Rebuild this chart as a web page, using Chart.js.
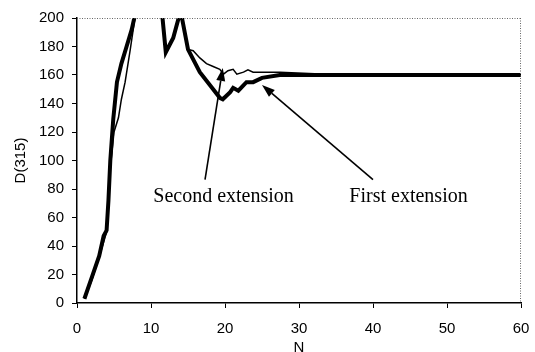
<!DOCTYPE html>
<html>
<head>
<meta charset="utf-8">
<script src="https://cdn.jsdelivr.net/npm/chart.js@4/dist/chart.umd.min.js"></script>
<style>
html,body{margin:0;padding:0;background:#fff;}
canvas{display:block;}
</style>
</head>
<body>
<canvas id="c" width="535" height="352"></canvas>
<script>
// Second extension (thick line)
const thickN = [1, 2, 3, 3.6, 4, 4.25, 4.5, 4.9, 5.4, 6, 6.7, 7.4, 8, 9, 10, 11, 12, 13, 14, 15, 16.6, 18.4, 19.3, 19.7, 20.7, 21.1, 21.8, 22.9, 23.8, 25, 27.4, 30, 40, 50, 60];
const thickD = [3, 18, 33, 47, 51, 72, 100, 129, 155, 168, 180, 192, 206, 245, 250, 230, 176, 186, 205, 178, 162, 150, 144, 143, 148, 151, 149, 155, 155, 158, 160, 160, 160, 160, 160];
// First extension (thin line)
const thinN = [1, 2, 3, 4, 4.5, 5.0, 5.6, 6, 6.5, 7.2, 7.8, 8.5, 9, 10, 11, 12, 13, 14, 15, 15.7, 16.6, 17.5, 18.4, 19.3, 19.8, 20.4, 21.1, 21.6, 22.5, 23.1, 23.8, 27.4, 33.7, 40, 50, 60];
const thinD = [3, 16, 32, 50, 95, 120, 130, 143, 155, 178, 199, 215, 245, 250, 230, 176, 186, 205, 178, 177, 172, 168, 166, 164, 160.6, 163, 164, 160.6, 162, 163.6, 162, 162, 160.6, 160, 160, 160];
// Axis ticks
const xTicks = [0, 10, 20, 30, 40, 50, 60];
const yTicks = [0, 20, 40, 60, 80, 100, 120, 140, 160, 180, 200];
// Annotation labels and arrows (data coordinates)
const labelTexts = ["Second extension", "First extension"];
const labelN = [19.8, 44.8];
const labelD = [71, 71];
const arrowFromN = [17.3, 40];
const arrowFromD = [86.6, 86.6];
const arrowToN = [19.7, 25];
const arrowToD = [165, 153];

const toXY = (ns, ds) => ns.map((n, i) => ({x: n, y: ds[i]}));

const annot = {
  id: 'annot',
  afterDatasetsDraw(chart) {
    const ctx = chart.ctx, xs = chart.scales.x, ys = chart.scales.y, a = chart.chartArea;
    ctx.save();
    // dotted frame on top and right
    ctx.strokeStyle = '#666';
    ctx.lineWidth = 1;
    ctx.setLineDash([1, 1.5]);
    ctx.beginPath();
    ctx.moveTo(a.left, a.top + 0.5); ctx.lineTo(a.right, a.top + 0.5);
    ctx.moveTo(a.right - 0.5, a.top); ctx.lineTo(a.right - 0.5, a.bottom);
    ctx.stroke();
    ctx.setLineDash([]);
    // arrows
    ctx.strokeStyle = '#000'; ctx.fillStyle = '#000'; ctx.lineWidth = 1.6;
    for (let i = 0; i < arrowFromN.length; i++) {
      const x1 = xs.getPixelForValue(arrowFromN[i]), y1 = ys.getPixelForValue(arrowFromD[i]);
      const x2 = xs.getPixelForValue(arrowToN[i]), y2 = ys.getPixelForValue(arrowToD[i]);
      const ang = Math.atan2(y2 - y1, x2 - x1), L = 13, W = 4.5;
      const bx = x2 - L * Math.cos(ang), by = y2 - L * Math.sin(ang);
      ctx.beginPath(); ctx.moveTo(x1, y1); ctx.lineTo(bx, by); ctx.stroke();
      ctx.beginPath();
      ctx.moveTo(x2, y2);
      ctx.lineTo(bx + W * Math.sin(ang), by - W * Math.cos(ang));
      ctx.lineTo(bx - W * Math.sin(ang), by + W * Math.cos(ang));
      ctx.closePath(); ctx.fill();
    }
    // labels
    ctx.font = '20px "Liberation Serif", "Times New Roman", serif';
    ctx.textAlign = 'center'; ctx.textBaseline = 'alphabetic';
    for (let i = 0; i < labelTexts.length; i++) {
      ctx.fillText(labelTexts[i], xs.getPixelForValue(labelN[i]), ys.getPixelForValue(labelD[i]));
    }
    ctx.restore();
  }
};

const tickFont = {family: '"Liberation Sans", Arial, sans-serif', size: 15};

new Chart(document.getElementById('c'), {
  type: 'line',
  data: {
    datasets: [
      {label: 'Second extension', data: toXY(thickN, thickD), borderColor: '#000', borderWidth: 4, pointRadius: 0, tension: 0, fill: false},
      {label: 'First extension', data: toXY(thinN, thinD), borderColor: '#000', borderWidth: 1.5, pointRadius: 0, tension: 0, fill: false}
    ]
  },
  options: {
    responsive: false,
    animation: false,
    layout: {padding: {top: 18, right: 14, left: 0, bottom: 0}},
    plugins: {legend: {display: false}, tooltip: {enabled: false}},
    scales: {
      x: {
        type: 'linear', min: 0, max: 60,
        afterBuildTicks: s => { s.ticks = xTicks.map(v => ({value: v})); },
        afterFit: s => { s.height = 49; s.paddingLeft = 0; s.paddingRight = 0; },
        ticks: {color: '#000', font: tickFont, padding: 12, maxRotation: 0},
        grid: {drawOnChartArea: false, drawTicks: true, tickLength: 5, color: '#000', lineWidth: 1},
        border: {color: '#000', width: 1.5},
        title: {display: true, text: 'N', color: '#000', font: tickFont, padding: {top: 0, bottom: -5}}
      },
      y: {
        type: 'linear', min: 0, max: 200,
        afterBuildTicks: s => { s.ticks = yTicks.map(v => ({value: v})); },
        afterFit: s => { s.width = 77; s.paddingTop = 0; s.paddingBottom = 0; },
        ticks: {color: '#000', font: tickFont, padding: 8},
        grid: {drawOnChartArea: false, drawTicks: true, tickLength: 5, color: '#000', lineWidth: 1},
        border: {color: '#000', width: 1.5},
        title: {display: true, text: 'D(315)', color: '#000', font: tickFont, padding: {top: 12, bottom: 0}}
      }
    }
  },
  plugins: [annot]
});
</script>
</body>
</html>
